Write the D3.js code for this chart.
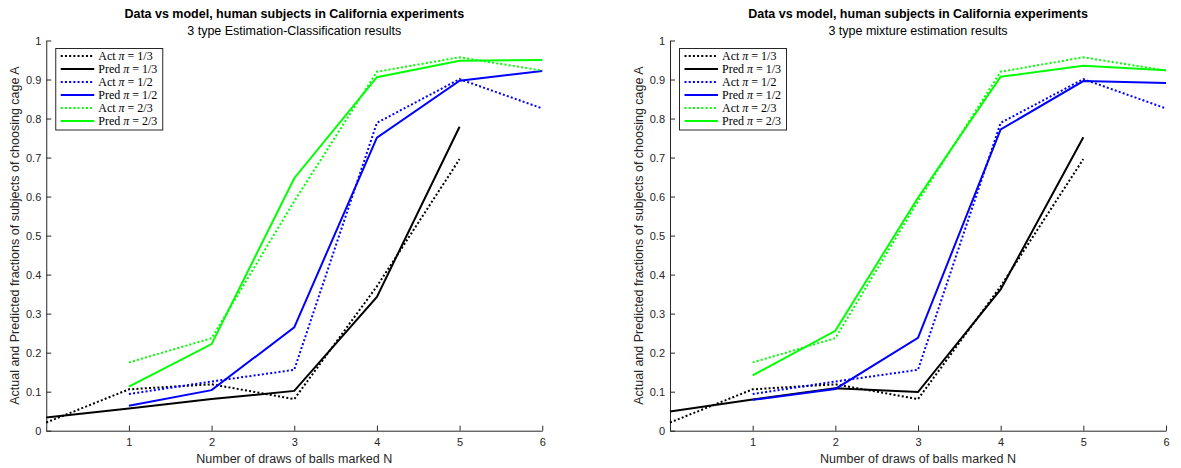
<!DOCTYPE html>
<html lang="en">
<head>
<meta charset="utf-8">
<script src="https://d3js.org/d3.v7.min.js"></script>
<title>Data vs model</title>
<style>
  body { margin: 0; background: #fff; }
  svg { display: block; }
  .axis path, .axis line { stroke: #262626; }
  .axis text { fill: #262626; font-family: "Liberation Sans", Arial, sans-serif; font-size: 11px; }
  .lbl { fill: #262626; font-family: "Liberation Sans", Arial, sans-serif; font-size: 12.5px; }
  .ttl { fill: #000; font-family: "Liberation Sans", Arial, sans-serif; font-size: 12.5px; }
  .leg text { font-family: "Liberation Serif", "Times New Roman", serif; font-size: 12px; fill: #000; white-space: pre; }
</style>
</head>
<body>
<script>

// number of N balls drawn (x) and observed / predicted share choosing cage A

var draws = [0, 1, 2, 3, 4, 5, 6];
var xTicks = [1, 2, 3, 4, 5, 6];
var yTicks = [0, 0.1, 0.2, 0.3, 0.4, 0.5, 0.6, 0.7, 0.8, 0.9, 1];

// observed fractions (same in both panels)
var actThird = [0.021, 0.106, 0.119, 0.081, 0.370, 0.696, null];
var actHalf = [null, 0.094, 0.126, 0.156, 0.789, 0.901, 0.826];
var actTwoThirds = [null, 0.175, 0.237, 0.588, 0.920, 0.957, 0.923];

// estimation-classification model
var ecPredThird = [0.034, 0.057, 0.081, 0.102, 0.343, 0.779, null];
var ecPredHalf = [null, 0.064, 0.104, 0.265, 0.751, 0.897, 0.922];
var ecPredTwoThirds = [null, 0.113, 0.222, 0.647, 0.906, 0.948, 0.950];

// mixture model
var mxPredThird = [0.049, 0.080, 0.109, 0.099, 0.362, 0.752, null];
var mxPredHalf = [null, 0.079, 0.107, 0.238, 0.772, 0.896, 0.891];
var mxPredTwoThirds = [null, 0.142, 0.256, 0.597, 0.907, 0.935, 0.924];

var legendNames = [["Act", "1/3"], ["Pred", "1/3"], ["Act", "1/2"], ["Pred", "1/2"], ["Act", "2/3"], ["Pred", "2/3"]];
var colors = ["#000000", "#000000", "#0000ff", "#0000ff", "#00ff00", "#00ff00"];
var dotted = [true, false, true, false, true, false];

var titleText = "Data vs model, human subjects in California experiments";
var xLabel = "Number of draws of balls marked N";
var yLabel = "Actual and Predicted fractions of subjects of choosing cage A";

var width = 1181, height = 468;
var svg = d3.select("body").append("svg").attr("width", width).attr("height", height);

function panel(left, subtitle, series) {
  var w = 496, top = 40.5, bottom = 430.7;

  var x = d3.scaleLinear().domain([0, 6]).range([left, left + w]);
  var y = d3.scaleLinear().domain([0, 1]).range([bottom, top]);

  var g = svg.append("g");

  // axes, ticks pointing inward
  g.append("g").attr("class", "axis")
    .attr("transform", "translate(0," + bottom + ")")
    .call(d3.axisBottom(x).tickValues(xTicks).tickFormat(d3.format("d"))
      .tickSizeInner(-5).tickSizeOuter(0).tickPadding(8));
  g.append("g").attr("class", "axis")
    .attr("transform", "translate(" + left + ",0)")
    .call(d3.axisLeft(y).tickValues(yTicks).tickFormat(d3.format("~g"))
      .tickSizeInner(-5).tickSizeOuter(0).tickPadding(5));

  // lines
  var line = d3.line()
    .defined(function(d) { return d[1] != null; })
    .x(function(d) { return x(d[0]); })
    .y(function(d) { return y(d[1]); });

  series.forEach(function(s, i) {
    g.append("path")
      .datum(draws.map(function(d, j) { return [d, s[j]]; }))
      .attr("d", line)
      .attr("fill", "none")
      .attr("stroke", colors[i])
      .attr("stroke-width", 2)
      .attr("stroke-dasharray", dotted[i] ? "2,2.2" : null);
  });

  // titles and labels
  var cx = left + w / 2;
  g.append("text").attr("class", "ttl").attr("x", cx).attr("y", 17.5)
    .attr("text-anchor", "middle").attr("font-weight", "bold").text(titleText);
  g.append("text").attr("class", "ttl").attr("x", cx).attr("y", 34.5)
    .attr("text-anchor", "middle").text(subtitle);
  g.append("text").attr("class", "lbl").attr("x", cx).attr("y", 463)
    .attr("text-anchor", "middle").text(xLabel);
  g.append("text").attr("class", "lbl")
    .attr("transform", "translate(" + (left - 27) + "," + (top + bottom) / 2 + ") rotate(-90)")
    .attr("text-anchor", "middle").text(yLabel);

  // legend
  var leg = g.append("g").attr("class", "leg").attr("transform", "translate(" + (left + 9.5) + ",48.5)");
  leg.append("rect").attr("width", 107).attr("height", 81.5)
    .attr("fill", "#fff").attr("stroke", "#262626").attr("stroke-width", 1);
  legendNames.forEach(function(n, i) {
    var ly = 7.5 + i * 13;
    leg.append("line").attr("x1", 5).attr("x2", 38.5).attr("y1", ly).attr("y2", ly)
      .attr("stroke", colors[i]).attr("stroke-width", 2)
      .attr("stroke-dasharray", dotted[i] ? "2,2.2" : null);
    var t = leg.append("text").attr("x", 42.5).attr("y", ly + 4);
    t.append("tspan").text(n[0] + " ");
    t.append("tspan").attr("font-style", "italic").text("\u03c0");
    t.append("tspan").text(" = " + n[1]);
  });
}

panel(46.25, "3 type Estimation-Classification results",
  [actThird, ecPredThird, actHalf, ecPredHalf, actTwoThirds, ecPredTwoThirds]);
panel(670, "3 type mixture estimation results",
  [actThird, mxPredThird, actHalf, mxPredHalf, actTwoThirds, mxPredTwoThirds]);

</script>
</body>
</html>
